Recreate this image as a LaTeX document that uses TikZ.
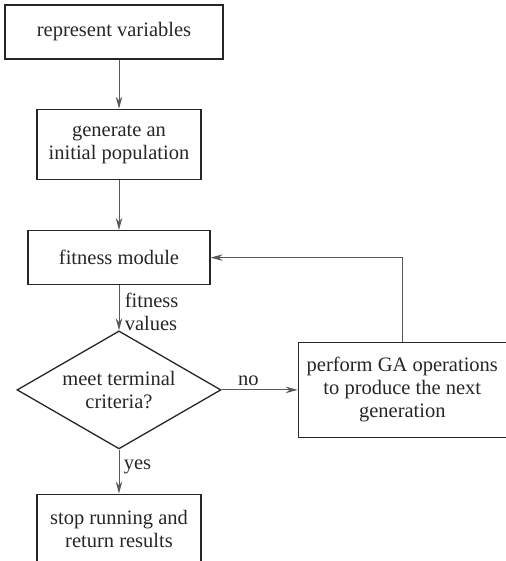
\documentclass[tikz,border=0pt]{standalone}
\usepackage{fontspec}
\setmainfont{Liberation Serif}
\usetikzlibrary{shapes.geometric,arrows.meta,positioning}

\begin{document}
\begin{tikzpicture}[
    x=1pt, y=1pt,
    font=\fontsize{20.5}{23}\selectfont,
    text=black!85,
    box_style/.style={draw=black!85, line width=1.3pt, rectangle, inner sep=2pt, align=center},
    decision_style/.style={draw=black!85, line width=1.3pt, diamond, aspect=1.73, inner sep=0pt, minimum width=204pt, minimum height=118pt, align=center},
    arrow_style/.style={draw=black!65, line width=0.9pt, -{Stealth[length=12pt,width=6.5pt]}}
]
\useasboundingbox (0,0) rectangle (505,-561);

\node[box_style, minimum width=218pt, minimum height=54pt] (represent) at (114,-32) {represent variables};
\node[box_style, minimum width=164pt, minimum height=70pt, below=49pt of represent, xshift=5pt] (generate) {generate an\\initial population};
\node[box_style, minimum width=182pt, minimum height=54pt, below=50pt of generate] (fitness) {fitness module};
\node[decision_style, below=45pt of fitness] (criteria) {meet terminal\\criteria?};
\node[box_style, minimum width=208pt, minimum height=95pt, right=76pt of criteria] (operate) {perform GA operations\\to produce the next\\generation};
\node[box_style, minimum width=164pt, minimum height=70pt, below=44pt of criteria] (stop) {stop running and\\return results};

\draw[arrow_style] (represent.south -| generate.north) -- (generate);
\draw[arrow_style] (generate) -- (fitness);
\draw[arrow_style] (fitness) -- node[right, align=left, pos=0.6, xshift=2pt]{fitness\\values} (criteria);
\draw[arrow_style] (criteria) -- node[above, pos=0.35]{no} (operate);
\draw[arrow_style] (criteria) -- node[right, pos=0.4, xshift=1pt]{yes} (stop);
\draw[arrow_style] (operate.north) |- (fitness.east);

\end{tikzpicture}
\end{document}
